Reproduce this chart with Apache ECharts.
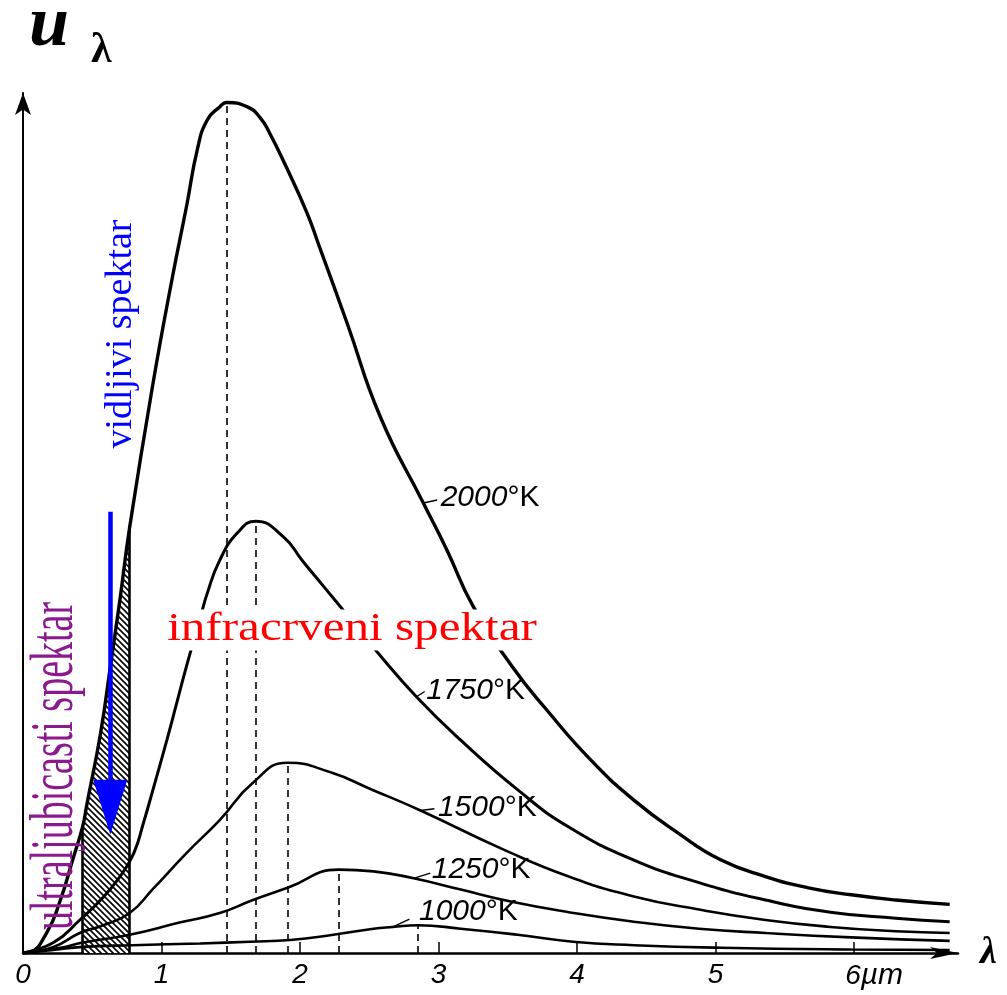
<!DOCTYPE html>
<html>
<head>
<meta charset="utf-8">
<script src="https://cdn.jsdelivr.net/npm/echarts@6/dist/echarts.min.js"></script>
<style>
  html, body { margin: 0; padding: 0; background: #fff; }
  #chart { width: 1007px; height: 995px; }
</style>
</head>
<body>
<div id="chart"></div>
<script>
// Spectral energy density u_λ of a black body, wavelength λ in µm (arbitrary u units)
const curve2000 = [[0,0],[0.05,0.1],[0.17,2.3],[0.27,6.1],[0.36,10.8],[0.43,14.5],[0.46,17.0],[0.56,25.3],[0.63,32.9],[0.70,40.7],[0.77,49.0],[0.94,65.7],[1.08,77.9],[1.18,85.9],[1.26,92.6],[1.33,95.9],[1.42,97.4],[1.47,97.9],[1.62,97.4],[1.71,96.2],[1.78,94.4],[1.90,90.5],[2.05,85.2],[2.14,81.3],[2.34,72.5],[2.58,61.7],[2.89,51.8],[3.06,46.4],[3.25,39.9],[3.53,33.0],[3.78,28.0],[4.10,22.2],[4.41,17.6],[4.73,13.8],[5.04,10.7],[5.36,8.8],[5.67,7.5],[5.98,6.7],[6.30,6.1],[6.69,5.6]];
const curve1750 = [[0,0],[0.22,1.2],[0.41,3.8],[0.56,6.1],[0.70,8.8],[0.80,11.5],[0.87,15.0],[0.94,18.9],[1.04,24.6],[1.11,28.8],[1.18,33.0],[1.28,38.6],[1.33,41.4],[1.42,45.2],[1.55,48.4],[1.68,49.7],[1.88,47.9],[2.02,45.1],[2.17,42.2],[2.30,39.7],[2.56,34.6],[2.84,29.5],[3.16,24.5],[3.57,18.8],[3.94,14.5],[4.41,10.7],[4.88,8.1],[5.36,6.1],[5.83,4.7],[6.30,4.0],[6.69,3.6]];
const curve1500 = [[0,0],[0.22,0.7],[0.41,2.3],[0.58,3.2],[0.77,4.6],[0.94,7.4],[1.18,11.5],[1.42,15.3],[1.66,19.6],[1.91,21.9],[2.22,20.8],[2.52,18.8],[2.87,16.4],[3.47,11.9],[3.94,8.8],[4.41,6.5],[4.88,5.0],[5.36,3.8],[5.83,3.0],[6.30,2.5],[6.69,2.3]];
const curve1250 = [[0,0],[0.27,0.6],[0.43,1.2],[0.77,2.1],[1.13,3.5],[1.42,4.6],[1.66,6.1],[1.91,7.5],[2.28,9.6],[2.53,9.4],[2.82,8.6],[3.16,7.3],[3.53,5.9],[3.94,4.7],[4.41,3.6],[4.88,2.8],[5.36,2.3],[5.98,1.8],[6.69,1.4]];
const curve1000 = [[0,0],[0.22,0.35],[0.43,0.7],[0.79,0.9],[1.28,1.1],[1.64,1.3],[1.93,1.5],[2.24,2.1],[2.53,2.8],[2.67,3.0],[2.85,3.2],[3.16,2.8],[3.57,2.1],[3.97,1.3],[4.41,0.9],[5.04,0.6],[5.98,0.4],[6.69,0.35]];

const temperatures = ['2000', '1750', '1500', '1250', '1000'];
const curveData = [curve2000, curve1750, curve1500, curve1250, curve1000];
// λ of the curve point where each temperature label is attached
const labelAnchors = [2.89, 2.84, 2.87, 2.82, 2.67];

// visible band of the spectrum, µm
const visibleBand = [0.43, 0.77];
// downward arrow inside the visible band: λ, start u, tip u
const visibleArrow = [0.63, 50.8, 13.6];

const xLabelValues = [0, 1, 2, 3, 4, 5, 6];
const xTickValues = [1, 2, 3, 4, 5, 6];

// ---- styling ----
const lineWidths = [3.4, 3, 2.6, 2.6, 2.6];
const leaderDelta = [[0.10, 0.35], [0.06, 0.6], [0.10, 0.2], [0.12, 0.6], [0.12, 0.9]];
const labelOffsets = [[3, -2], [1, -1], [3, -1], [1, -3], [9, -7]];

function peakOf(data) { return data.reduce((a, b) => (b[1] > a[1] ? b : a)); }
function pointAt(data, x) { return data.find(p => p[0] === x); }

function hatchPattern() {
  const c = document.createElement('canvas');
  c.width = 6; c.height = 6;
  const g = c.getContext('2d');
  g.fillStyle = '#fff';
  g.fillRect(0, 0, 6, 6);
  g.strokeStyle = '#000';
  g.lineWidth = 1.6;
  g.beginPath();
  g.moveTo(0, 0); g.lineTo(6, 6);
  g.moveTo(-3, 3); g.lineTo(3, 9);
  g.moveTo(3, -3); g.lineTo(9, 3);
  g.stroke();
  return c;
}

const labelRich = {
  n: { fontFamily: 'Liberation Sans', fontStyle: 'italic', fontSize: 30, color: '#000' },
  k: { fontFamily: 'Liberation Sans', fontSize: 30, color: '#000' }
};

const curveSeries = curveData.map((data, i) => {
  const peak = peakOf(data);
  const anchor = pointAt(data, labelAnchors[i]);
  const leaderEnd = [anchor[0] + leaderDelta[i][0], anchor[1] + leaderDelta[i][1]];
  return {
    type: 'line',
    name: temperatures[i] + ' K',
    data: data,
    smooth: 0.5,
    symbol: 'none',
    z: 3,
    lineStyle: { color: '#000', width: lineWidths[i] },
    markLine: {
      silent: true,
      symbol: 'none',
      animation: false,
      label: { show: false },
      data: [
        [{ coord: [peak[0], 0], lineStyle: { type: [7, 5], width: 1.6, color: '#000' } }, { coord: [peak[0], peak[1]] }],
        [{ coord: [anchor[0], anchor[1]], lineStyle: { type: 'solid', width: 1.4, color: '#000' } }, { coord: leaderEnd }]
      ]
    },
    markPoint: {
      silent: true,
      animation: false,
      data: [{
        coord: leaderEnd,
        symbol: 'circle',
        symbolSize: 1,
        itemStyle: { color: 'rgba(0,0,0,0)' },
        label: {
          show: true,
          position: 'right',
          distance: 0,
          offset: labelOffsets[i],
          formatter: '{n|' + temperatures[i] + '}{k|°K}',
          rich: labelRich
        }
      }]
    }
  };
});

const bandData = curve2000.filter(p => p[0] >= visibleBand[0] && p[0] <= visibleBand[1]);
const hatchSeries = {
  type: 'line',
  name: 'visible band',
  data: bandData,
  smooth: 0.5,
  symbol: 'none',
  z: 1,
  lineStyle: { width: 0 },
  areaStyle: { color: { image: hatchPattern(), repeat: 'repeat' }, opacity: 1 },
  markLine: {
    silent: true,
    symbol: 'none',
    animation: false,
    label: { show: false },
    lineStyle: { type: 'solid', color: '#000', width: 2.6 },
    data: visibleBand.map(x => [{ coord: [x, 0] }, { coord: [x, pointAt(curve2000, x)[1]] }])
  }
};

const arrowSeries = {
  type: 'line',
  name: 'arrow',
  data: [],
  z: 6,
  markLine: {
    silent: true,
    symbol: 'none',
    animation: false,
    label: { show: false },
    lineStyle: { type: 'solid', color: '#0000ff', width: 4.5 },
    data: [[{ coord: [visibleArrow[0], visibleArrow[1]] }, { coord: [visibleArrow[0], visibleArrow[2] + 3] }]]
  },
  markPoint: {
    silent: true,
    animation: false,
    data: [{
      coord: [visibleArrow[0], visibleArrow[2]],
      symbol: 'path://M0,0L34,0L17,55Z',
      symbolSize: [34, 55],
      symbolOffset: [0, -27.5],
      itemStyle: { color: '#0000ff' },
      label: { show: false }
    }]
  }
};

const chart = echarts.init(document.getElementById('chart'), null, { renderer: 'canvas' });

chart.setOption({
  backgroundColor: '#fff',
  animation: false,
  grid: { left: 23, right: 49, top: 93, bottom: 42, containLabel: false },
  xAxis: {
    type: 'value',
    min: 0,
    max: 6.75,
    name: 'λ',
    nameLocation: 'end',
    nameGap: 22,
    nameTextStyle: { fontFamily: 'Liberation Serif', fontStyle: 'italic', fontWeight: 'bold', fontSize: 38, color: '#000', verticalAlign: 'middle' },
    axisLine: { show: true, symbol: ['none', 'arrow'], symbolSize: [9, 28], lineStyle: { color: '#000', width: 2.5 } },
    axisTick: { show: true, inside: true, length: 11, customValues: xTickValues, lineStyle: { color: '#000', width: 1.5 } },
    axisLabel: {
      customValues: xLabelValues,
      margin: 8,
      formatter: v => (v === 6 ? '{pad| }{n|6}{u|µm}' : '{n|' + v + '}'),
      rich: {
        n: { fontFamily: 'Liberation Sans', fontStyle: 'italic', fontSize: 28, color: '#000' },
        u: { fontFamily: 'Liberation Sans', fontStyle: 'italic', fontSize: 30, color: '#000' },
        pad: { width: 40 }
      }
    },
    splitLine: { show: false }
  },
  yAxis: {
    type: 'value',
    min: 0,
    max: 99,
    axisLine: { show: true, symbol: ['none', 'arrow'], symbolSize: [12, 22], lineStyle: { color: '#000', width: 2 } },
    axisTick: { show: false },
    axisLabel: { show: false },
    splitLine: { show: false }
  },
  graphic: [
    { type: 'text', x: 29, y: 26, z: 100,
      style: { text: 'u', font: 'italic bold 72px "Liberation Serif"', fill: '#000', align: 'left', verticalAlign: 'middle' } },
    { type: 'text', x: 91, y: 51, z: 100,
      style: { text: 'λ', font: 'bold 42px "Liberation Serif"', fill: '#000', align: 'left', verticalAlign: 'middle' } },
    { type: 'text', x: 121, y: 334, rotation: Math.PI / 2, z: 100,
      style: { text: 'vidljivi spektar', font: '38px "Liberation Serif"', fill: '#0000ff', align: 'center', verticalAlign: 'middle' } },
    { type: 'text', x: 56, y: 766, rotation: Math.PI / 2, scaleY: 1.6, z: 100,
      style: { text: 'ultraljubicasti spektar', font: '38px "Liberation Serif"', fill: '#8a1a8e', align: 'center', verticalAlign: 'middle' } },
    { type: 'text', x: 352, y: 630, scaleX: 1.26, z: 100,
      style: { text: 'infracrveni spektar', font: '39px "Liberation Serif"', fill: '#ff0000', align: 'center', verticalAlign: 'middle',
               backgroundColor: '#fff', padding: [1, 2] } }
  ],
  series: [hatchSeries].concat(curveSeries, [arrowSeries])
});
</script>
</body>
</html>
